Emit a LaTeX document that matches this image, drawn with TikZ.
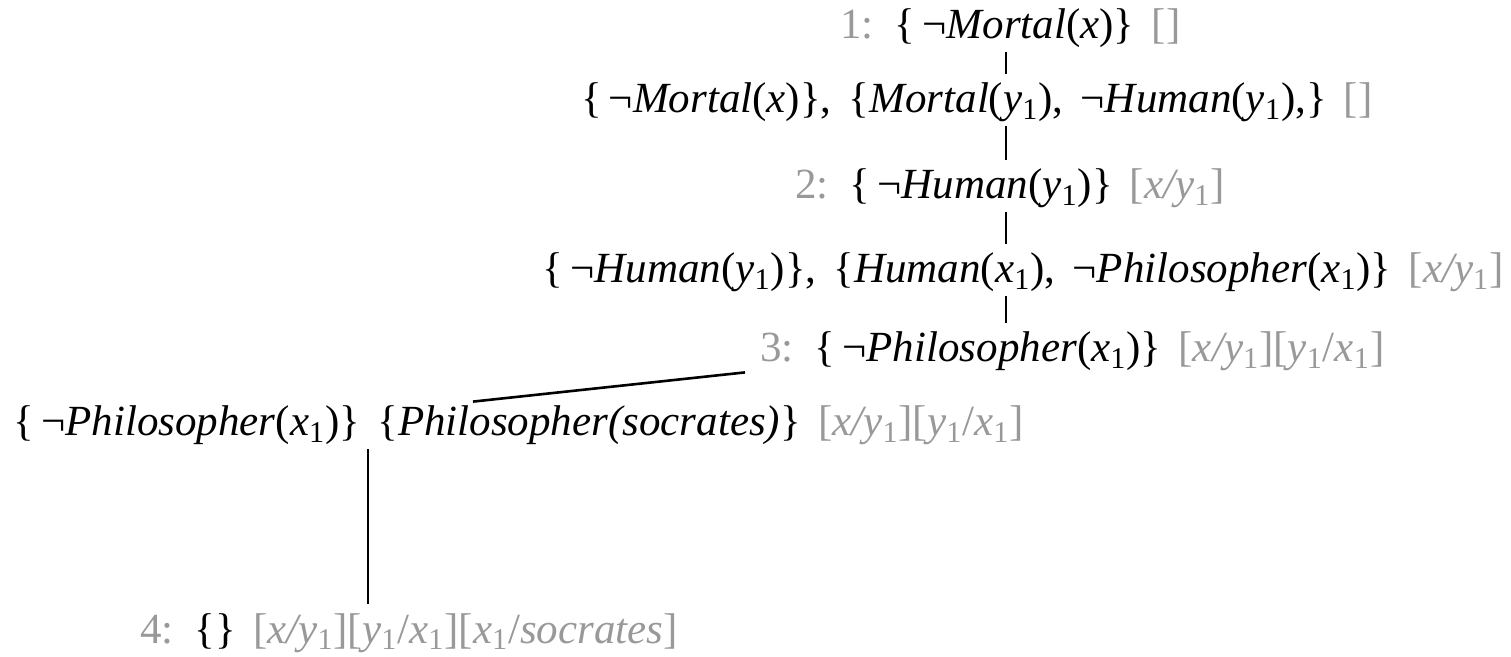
\documentclass[tikz,border=0pt]{standalone}
\usepackage{fontspec}
\setmainfont[WordSpace=1.6]{Liberation Serif}
\definecolor{subst}{gray}{0.6}

% substitution / step labels in gray
\newcommand\unif[1]{\textcolor{subst}{#1}}
\newcommand\vx{\textit{x}}
\newcommand\vxo{\textit{x}\textsubscript{1}}
\newcommand\vyo{\textit{y}\textsubscript{1}}
\newcommand\lneg{\{\,¬}

\begin{document}
\begin{tikzpicture}[
      x=0.5pt, y=-0.5pt,
      clause/.style={inner xsep=0pt, inner ysep=4.5pt, text height=15pt, text depth=2pt,
        font=\fontsize{21.5pt}{26pt}\selectfont},
      edge/.style={draw=black, line width=1.3pt}
    ]
  \useasboundingbox (0,0) rectangle (1511,657);
  % resolution steps
  \node[clause, anchor=base west] (r1) at (840,39)
    {\unif{1:} \lneg\textit{Mortal}(\vx)\} \unif{[]}};
  \node[clause, anchor=base east] (r2) at (1373,113)
    {\lneg\textit{Mortal}(\vx)\}, \{\textit{Mortal}(\vyo), ¬\textit{Human}(\vyo),\} \unif{[]}};
  \node[clause, anchor=base west] (r3) at (795,199)
    {\unif{2:} \lneg\textit{Human}(\vyo)\} \unif{[\textit{x/y}\textsubscript{1}]}};
  \node[clause, anchor=base east] (r4) at (1504,283)
    {\lneg\textit{Human}(\vyo)\}, \{\textit{Human}(\vxo), ¬\textit{Philosopher}(\vxo)\} \unif{[\textit{x/y}\textsubscript{1}]}};
  \node[clause, anchor=base west] (r5) at (760,362)
    {\unif{3:} \lneg\textit{Philosopher}(\vxo)\} \unif{[\textit{x/y}\textsubscript{1}][\vyo/\vxo]}};
  \node[clause, anchor=base west] (r6) at (13,436)
    {\lneg\textit{Philosopher}(\vxo)\} \{\textit{Philosopher(socrates)}\} \unif{[\textit{x/y}\textsubscript{1}][\vyo/\vxo]}};
  \node[clause, anchor=base west] (r7) at (140,643)
    {\unif{4:} \{\} \unif{[\textit{x/y}\textsubscript{1}][\vyo/\vxo][\vxo/\textit{socrates}]}};

  % tree edges
  \coordinate (spine) at (1006,0);
  \coordinate (drop) at (368,0);
  \draw[edge] (r1.south -| spine) -- (r2.north -| spine);
  \draw[edge] (r2.south -| spine) -- (r3.north -| spine);
  \draw[edge] (r3.south -| spine) -- (r4.north -| spine);
  \draw[edge] (r4.south -| spine) -- (r5.north -| spine);
  \draw[edge] ([shift={(-7.5pt,1.5pt)}]r5.south west) -- ([shift={(230pt,-2.5pt)}]r6.north west);
  \draw[edge] (r6.south -| drop) -- (r7.north -| drop);
\end{tikzpicture}
\end{document}
